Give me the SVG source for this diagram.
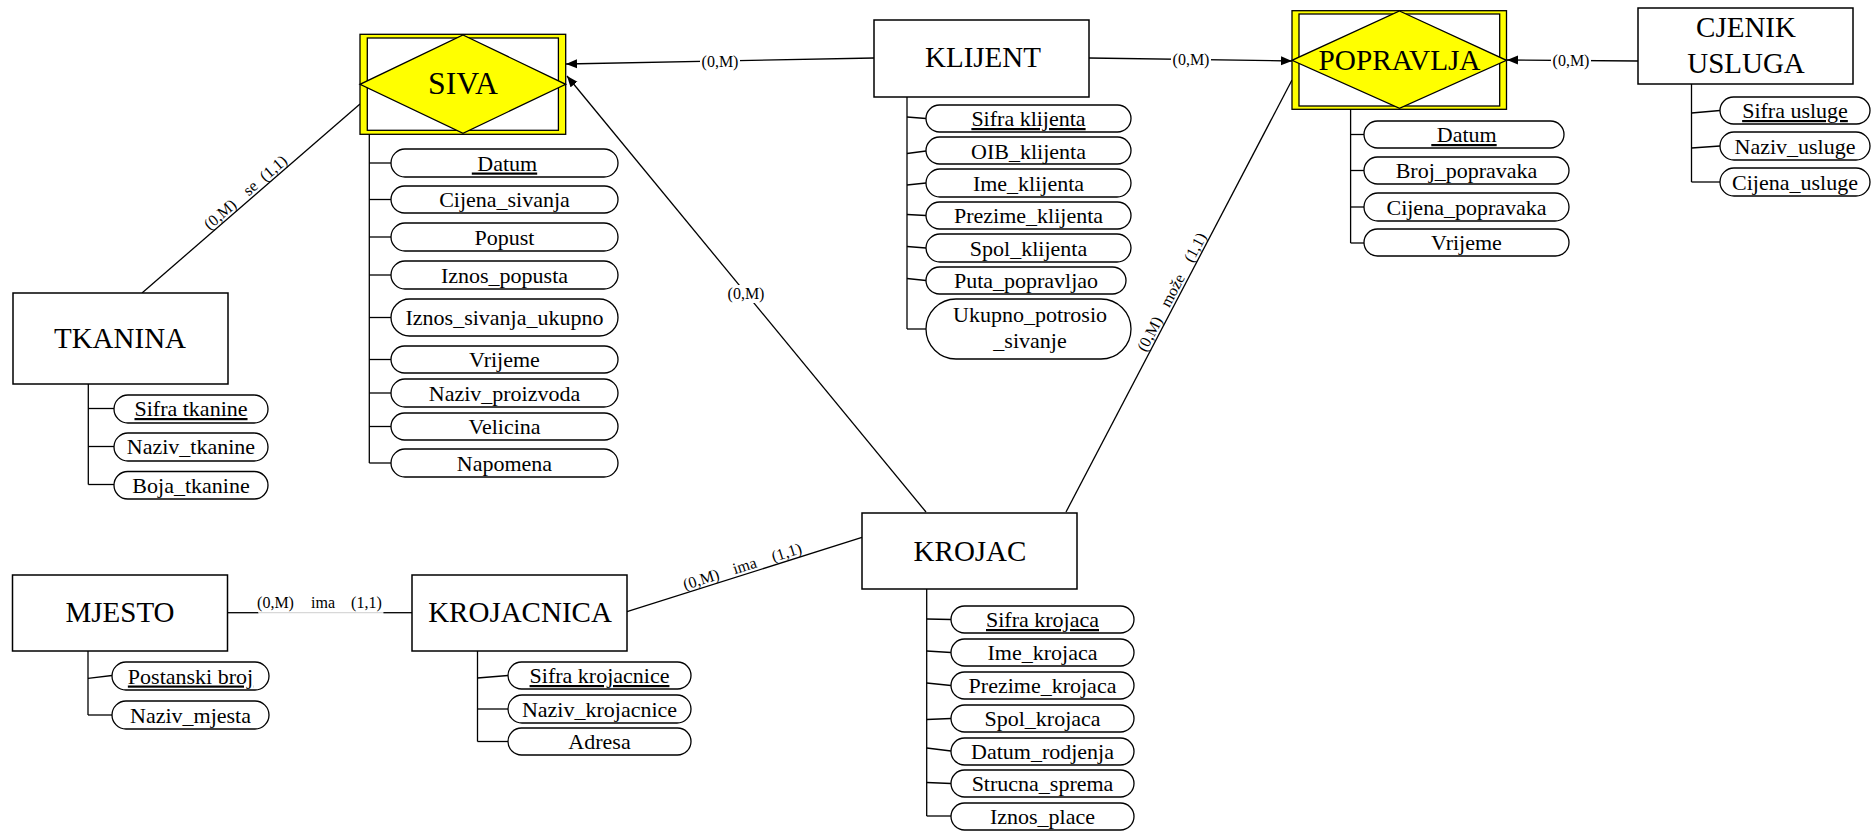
<svg xmlns="http://www.w3.org/2000/svg" width="1872" height="831" viewBox="0 0 1872 831" font-family="'Liberation Serif', 'Times New Roman', 'DejaVu Serif', serif">
<style>
.ent{fill:#fff;stroke:#000;stroke-width:1.5}
.pill{fill:#fff;stroke:#000;stroke-width:1.3}
.br{stroke:#000;stroke-width:1.3;fill:none}
.con{stroke:#000;stroke-width:1.3;fill:none}
text{font-family:'Liberation Serif','Times New Roman','DejaVu Serif',serif;fill:#000;text-anchor:middle}
.et{font-size:29px}
.at{font-size:22px}
.u{text-decoration:underline}
.lbl{font-size:16px}
.ybox{fill:#ffff00;stroke:#000;stroke-width:1.3}
.inner{fill:#fff;stroke:#000;stroke-width:1.3}
.dia{fill:#ffff00;stroke:#000;stroke-width:1.3}
</style>
<defs>
<marker id="arr" markerWidth="12" markerHeight="10" refX="11" refY="5" orient="auto" markerUnits="userSpaceOnUse">
<path d="M0,0.5 L11,5 L0,9.5 Z" fill="#000"/>
</marker>
</defs>
<rect width="1872" height="831" fill="#fff"/>

<g id="connectors">
<line class="con" x1="874" y1="58" x2="566" y2="64" marker-end="url(#arr)"/>
<rect x="700" y="54" width="40" height="16" fill="#fff"/>
<text class="lbl" x="720" y="67">(0,M)</text>

<line class="con" x1="926" y1="512" x2="567" y2="76" marker-end="url(#arr)"/>
<rect x="726" y="285" width="40" height="18" fill="#fff"/>
<text class="lbl" x="746" y="299">(0,M)</text>

<line class="con" x1="1089" y1="58" x2="1292" y2="61" marker-end="url(#arr)"/>
<rect x="1171" y="52" width="40" height="16" fill="#fff"/>
<text class="lbl" x="1191" y="65">(0,M)</text>

<line class="con" x1="1638" y1="61" x2="1507" y2="60" marker-end="url(#arr)"/>
<rect x="1551" y="53" width="40" height="16" fill="#fff"/>
<text class="lbl" x="1571" y="66">(0,M)</text>

<line class="con" x1="1066" y1="512" x2="1292" y2="80"/>
<text class="lbl" transform="translate(1157.1,337.8) rotate(-62.39)" y="-3">(0,M)</text>
<text class="lbl" transform="translate(1180,294.2) rotate(-62.39)" y="-3">može</text>
<text class="lbl" transform="translate(1202.4,251.3) rotate(-62.39)" y="-3">(1,1)</text>

<line class="con" x1="360" y1="104" x2="142" y2="293"/>
<text class="lbl" transform="translate(225.5,220.6) rotate(-40.93)" y="-3">(0,M)</text>
<text class="lbl" transform="translate(255.8,194.3) rotate(-40.93)" y="-3">se</text>
<text class="lbl" transform="translate(278.7,174.5) rotate(-40.93)" y="-3">(1,1)</text>

<line class="con" x1="227" y1="612.7" x2="258.5" y2="612.7"/>
<line x1="258.5" y1="612.7" x2="383.4" y2="612.7" stroke="#d8d8d8" stroke-width="1.2"/>
<line class="con" x1="383.4" y1="612.7" x2="412" y2="612.7"/>
<text class="lbl" x="275.5" y="608">(0,M)</text>
<text class="lbl" x="323" y="608">ima</text>
<text class="lbl" x="366.4" y="608">(1,1)</text>

<line class="con" x1="627" y1="611.7" x2="862" y2="537.3"/>
<text class="lbl" transform="translate(703.6,587.3) rotate(-17.57)" y="-3">(0,M)</text>
<text class="lbl" transform="translate(747.2,573.6) rotate(-17.57)" y="-3">ima</text>
<text class="lbl" transform="translate(789,560.3) rotate(-17.57)" y="-3">(1,1)</text>
</g>

<g id="siva">
<rect class="ybox" x="360" y="34.3" width="205.7" height="100"/>
<rect class="inner" x="367.3" y="38" width="191.1" height="92.3"/>
<polygon class="dia" points="463,35 565.7,84.3 463,133.3 360,84.3"/>
<text class="et" x="463" y="94" textLength="70" lengthAdjust="spacingAndGlyphs" style="font-size:31px">SIVA</text>
<line class="br" x1="369.3" y1="134.3" x2="369.3" y2="463"/>
<line class="br" x1="369.3" y1="163" x2="391" y2="163"/>
<line class="br" x1="369.3" y1="199.5" x2="391" y2="199.5"/>
<line class="br" x1="369.3" y1="237" x2="391" y2="237"/>
<line class="br" x1="369.3" y1="275" x2="391" y2="275"/>
<line class="br" x1="369.3" y1="317.5" x2="391" y2="317.5"/>
<line class="br" x1="369.3" y1="359.5" x2="391" y2="359.5"/>
<line class="br" x1="369.3" y1="393" x2="391" y2="393"/>
<line class="br" x1="369.3" y1="426.5" x2="391" y2="426.5"/>
<line class="br" x1="369.3" y1="463" x2="391" y2="463"/>
<rect class="pill" x="391" y="149" width="227" height="28" rx="14"/>
<rect class="pill" x="391" y="186" width="227" height="27" rx="13.5"/>
<rect class="pill" x="391" y="223" width="227" height="28" rx="14"/>
<rect class="pill" x="391" y="261" width="227" height="28" rx="14"/>
<rect class="pill" x="391" y="299" width="227" height="37" rx="18.5"/>
<rect class="pill" x="391" y="346" width="227" height="27" rx="13.5"/>
<rect class="pill" x="391" y="379" width="227" height="28" rx="14"/>
<rect class="pill" x="391" y="413" width="227" height="27" rx="13.5"/>
<rect class="pill" x="391" y="449" width="227" height="28" rx="14"/>
<text class="at u" x="504.5" y="170.5">&#160;Datum</text>
<text class="at" x="504.5" y="207">Cijena_sivanja</text>
<text class="at" x="504.5" y="244.5">Popust</text>
<text class="at" x="504.5" y="282.5">Iznos_popusta</text>
<text class="at" x="504.5" y="325">Iznos_sivanja_ukupno</text>
<text class="at" x="504.5" y="367">Vrijeme</text>
<text class="at" x="504.5" y="400.5">Naziv_proizvoda</text>
<text class="at" x="504.5" y="434">Velicina</text>
<text class="at" x="504.5" y="470.5">Napomena</text>
</g>

<g id="klijent">
<rect class="ent" x="874" y="20" width="215" height="77"/>
<text class="et" x="983" y="67">KLIJENT</text>
<line class="br" x1="907" y1="97" x2="907" y2="329"/>
<line class="br" x1="907" y1="117" x2="926" y2="118.5"/>
<line class="br" x1="907" y1="153.5" x2="926" y2="151"/>
<line class="br" x1="907" y1="185" x2="926" y2="183"/>
<line class="br" x1="907" y1="214.5" x2="926" y2="215.5"/>
<line class="br" x1="907" y1="246.5" x2="926" y2="248"/>
<line class="br" x1="907" y1="278.5" x2="926" y2="280.5"/>
<line class="br" x1="907" y1="329" x2="926" y2="329"/>
<rect class="pill" x="926" y="105" width="205" height="27" rx="13.5"/>
<rect class="pill" x="926" y="137" width="205" height="27" rx="13.5"/>
<rect class="pill" x="926" y="169" width="205" height="28" rx="14"/>
<rect class="pill" x="926" y="202" width="205" height="27" rx="13.5"/>
<rect class="pill" x="926" y="234" width="205" height="28" rx="14"/>
<rect class="pill" x="926" y="267" width="200" height="27" rx="13.5"/>
<rect class="pill" x="926" y="299" width="205" height="60" rx="30"/>
<text class="at u" x="1028.5" y="126">Sifra klijenta</text>
<text class="at" x="1028.5" y="158.5">OIB_klijenta</text>
<text class="at" x="1028.5" y="190.5">Ime_klijenta</text>
<text class="at" x="1028.5" y="223">Prezime_klijenta</text>
<text class="at" x="1028.5" y="255.5">Spol_klijenta</text>
<text class="at" x="1026" y="288">Puta_popravljao</text>
<text class="at" x="1030" y="322">Ukupno_potrosio</text>
<text class="at" x="1030" y="348">_sivanje</text>
</g>

<g id="popravlja">
<rect class="ybox" x="1292" y="10.7" width="214.5" height="98.6"/>
<rect class="inner" x="1299" y="14" width="200.7" height="92"/>
<polygon class="dia" points="1399.5,11 1506.5,60.3 1399.5,108.3 1292,60.3"/>
<text class="et" x="1399.5" y="70" textLength="162" lengthAdjust="spacingAndGlyphs">POPRAVLJA</text>
<line class="br" x1="1350.6" y1="109" x2="1350.6" y2="243"/>
<line class="br" x1="1350.6" y1="134.5" x2="1364" y2="134.5"/>
<line class="br" x1="1350.6" y1="170.5" x2="1364" y2="170.5"/>
<line class="br" x1="1350.6" y1="207" x2="1364" y2="207"/>
<line class="br" x1="1350.6" y1="243" x2="1364" y2="243"/>
<rect class="pill" x="1364" y="121" width="200" height="27" rx="13.5"/>
<rect class="pill" x="1364" y="157" width="205" height="27" rx="13.5"/>
<rect class="pill" x="1364" y="193" width="205" height="28" rx="14"/>
<rect class="pill" x="1364" y="229" width="205" height="27" rx="13.5"/>
<text class="at u" x="1464" y="142">&#160;Datum</text>
<text class="at" x="1466.5" y="178">Broj_popravaka</text>
<text class="at" x="1466.5" y="214.5">Cijena_popravaka</text>
<text class="at" x="1466.5" y="250">Vrijeme</text>
</g>

<g id="cjenik">
<rect class="ent" x="1638" y="8" width="215" height="76"/>
<text class="et" x="1746" y="37">CJENIK</text>
<text class="et" x="1746" y="73">USLUGA</text>
<line class="br" x1="1691.5" y1="84" x2="1691.5" y2="182"/>
<line class="br" x1="1691.5" y1="113" x2="1720" y2="110.5"/>
<line class="br" x1="1691.5" y1="148" x2="1720" y2="146"/>
<line class="br" x1="1691.5" y1="182" x2="1720" y2="182"/>
<rect class="pill" x="1720" y="97" width="150" height="27" rx="13.5"/>
<rect class="pill" x="1720" y="132" width="150" height="28" rx="14"/>
<rect class="pill" x="1720" y="168" width="150" height="28" rx="14"/>
<text class="at u" x="1795" y="118">Sifra usluge</text>
<text class="at" x="1795" y="153.5">Naziv_usluge</text>
<text class="at" x="1795" y="189.5">Cijena_usluge</text>
</g>

<g id="tkanina">
<rect class="ent" x="13" y="293" width="215" height="91"/>
<text class="et" x="120" y="348">TKANINA</text>
<line class="br" x1="88.3" y1="384" x2="88.3" y2="484.5"/>
<line class="br" x1="88.3" y1="408.5" x2="114" y2="408.5"/>
<line class="br" x1="88.3" y1="446.5" x2="114" y2="446.5"/>
<line class="br" x1="88.3" y1="484.5" x2="114" y2="484.5"/>
<rect class="pill" x="114" y="395" width="154" height="28" rx="14"/>
<rect class="pill" x="114" y="433" width="154" height="28" rx="14"/>
<rect class="pill" x="114" y="471.5" width="154" height="27.5" rx="13.75"/>
<text class="at u" x="191" y="416">Sifra tkanine</text>
<text class="at" x="191" y="454">Naziv_tkanine</text>
<text class="at" x="191" y="492.5">Boja_tkanine</text>
</g>

<g id="mjesto">
<rect class="ent" x="12.5" y="575" width="215" height="76"/>
<text class="et" x="120" y="622">MJESTO</text>
<line class="br" x1="88" y1="651" x2="88" y2="715"/>
<line class="br" x1="88" y1="678.3" x2="112" y2="675.5"/>
<line class="br" x1="88" y1="715" x2="112" y2="715"/>
<rect class="pill" x="112" y="662" width="157" height="28" rx="14"/>
<rect class="pill" x="112" y="701" width="157" height="28" rx="14"/>
<text class="at u" x="190.5" y="683.5">Postanski broj</text>
<text class="at" x="190.5" y="722.5">Naziv_mjesta</text>
</g>

<g id="krojacnica">
<rect class="ent" x="412" y="575" width="215" height="76"/>
<text class="et" x="520" y="622">KROJACNICA</text>
<line class="br" x1="477.5" y1="651" x2="477.5" y2="741.5"/>
<line class="br" x1="477.5" y1="678" x2="508" y2="675.5"/>
<line class="br" x1="477.5" y1="709" x2="508" y2="709"/>
<line class="br" x1="477.5" y1="741.5" x2="508" y2="741.5"/>
<rect class="pill" x="508" y="662" width="183" height="27" rx="13.5"/>
<rect class="pill" x="508" y="695" width="183" height="28" rx="14"/>
<rect class="pill" x="508" y="728" width="183" height="27" rx="13.5"/>
<text class="at u" x="599.5" y="683">Sifra krojacnice</text>
<text class="at" x="599.5" y="716.5">Naziv_krojacnice</text>
<text class="at" x="599.5" y="749">Adresa</text>
</g>

<g id="krojac">
<rect class="ent" x="862" y="513" width="215" height="76"/>
<text class="et" x="970" y="561">KROJAC</text>
<line class="br" x1="926.7" y1="589" x2="926.7" y2="816"/>
<line class="br" x1="926.7" y1="619" x2="951" y2="619.5"/>
<line class="br" x1="926.7" y1="651" x2="951" y2="652.5"/>
<line class="br" x1="926.7" y1="683" x2="951" y2="685.5"/>
<line class="br" x1="926.7" y1="719.5" x2="951" y2="718.5"/>
<line class="br" x1="926.7" y1="748" x2="951" y2="751"/>
<line class="br" x1="926.7" y1="782.5" x2="951" y2="783.5"/>
<line class="br" x1="926.7" y1="816" x2="951" y2="816"/>
<rect class="pill" x="951" y="606" width="183" height="27" rx="13.5"/>
<rect class="pill" x="951" y="639" width="183" height="27" rx="13.5"/>
<rect class="pill" x="951" y="672" width="183" height="27" rx="13.5"/>
<rect class="pill" x="951" y="705" width="183" height="27" rx="13.5"/>
<rect class="pill" x="951" y="738" width="183" height="27" rx="13.5"/>
<rect class="pill" x="951" y="770" width="183" height="27" rx="13.5"/>
<rect class="pill" x="951" y="803" width="183" height="27" rx="13.5"/>
<text class="at u" x="1042.5" y="627">Sifra krojaca</text>
<text class="at" x="1042.5" y="660">Ime_krojaca</text>
<text class="at" x="1042.5" y="693">Prezime_krojaca</text>
<text class="at" x="1042.5" y="726">Spol_krojaca</text>
<text class="at" x="1042.5" y="759">Datum_rodjenja</text>
<text class="at" x="1042.5" y="791">Strucna_sprema</text>
<text class="at" x="1042.5" y="824">Iznos_place</text>
</g>
</svg>
